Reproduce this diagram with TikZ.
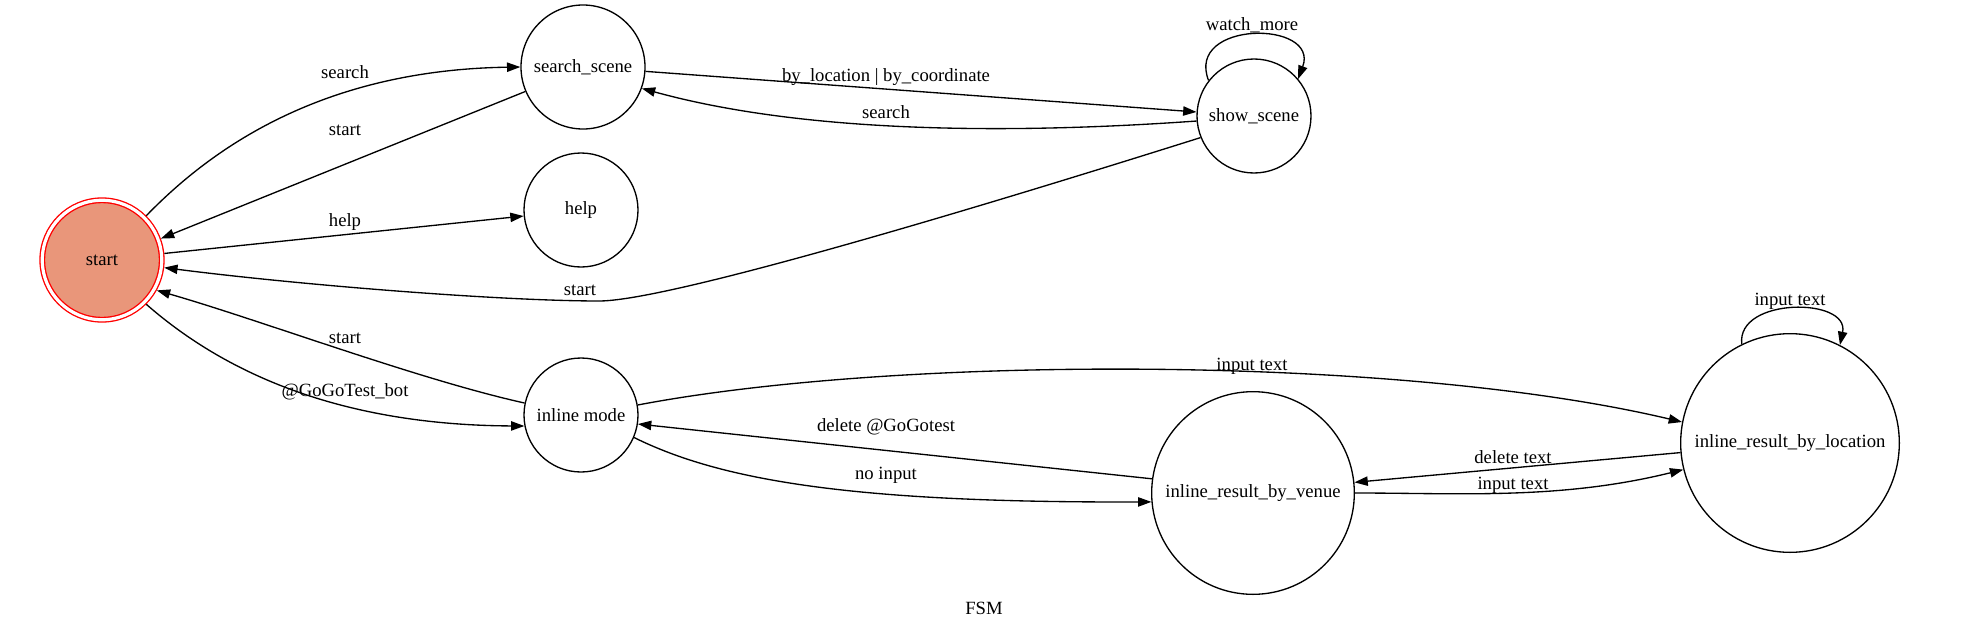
\documentclass[tikz,border=0pt]{standalone}
\usepackage{fontspec}
\setmainfont{Liberation Serif}
\usetikzlibrary{arrows.meta}
\definecolor{saumon}{RGB}{233,150,122}
\begin{document}
\begin{tikzpicture}[x=0.75pt,y=-0.75pt]
            \tikzstyle{etat}=[circle,draw,line width=1pt,inner sep=0pt,font=\fontsize{14}{17}\selectfont]
            \tikzstyle{depart}=[etat,draw=red,double=white,double distance=2.4pt,fill=saumon,outer sep=2.2pt]
            \tikzstyle{fleche}=[-{Triangle[length=10pt,width=7pt]},line width=1pt]
            \tikzstyle{etiquette}=[font=\fontsize{14}{17}\selectfont,inner sep=0pt]
            \useasboundingbox (0,0) rectangle (1971,629);
            \node[depart,minimum size=89.6pt] (start) at (102,260) {start};
            \node[etat,minimum size=93pt] (search) at (583,67) {search\_scene};
            \node[etat,minimum size=85.5pt] (help) at (581,210) {help};
            \node[etat,minimum size=85.5pt] (show) at (1254,116) {show\_scene};
            \node[etat,minimum size=85.5pt] (inline) at (581,415) {inline mode};
            \node[etat,minimum size=152pt] (venue) at (1253,493) {inline\_result\_by\_venue};
            \node[etat,minimum size=164pt] (location) at (1790,443) {inline\_result\_by\_location};
            \draw[fleche] (start.45) .. controls (210,150) and (320,70) .. (search.180);
            \draw[fleche] (search.203) -- (start.20);
            \draw[fleche] (start.6) -- (help.186);
            \draw[fleche] (show.202) .. controls (1050,185) and (680,300) .. (600,301) .. controls (500,301) and (300,285) .. (start.-7);
            \draw[fleche] (search.-4) -- (show.176);
            \draw[fleche] (show.185) .. controls (1000,135) and (800,132) .. (search.-20);
            \draw[fleche] (show.142) .. controls (1185,20) and (1320,20) .. (show.40);
            \draw[fleche] (inline.168) .. controls (420,380) and (260,320) .. (start.-29);
            \draw[fleche] (start.-45) .. controls (210,360) and (320,425) .. (inline.191);
            \draw[fleche] (inline.10) .. controls (900,355) and (1400,355) .. (location.169);
            \draw[fleche] (venue.172) -- (inline.-9);
            \draw[fleche] (inline.-23) .. controls (720,480) and (850,503) .. (venue.185);
            \draw[fleche] (location.185) -- (venue.6);
            \draw[fleche] (venue.0) .. controls (1460,493) and (1560,500) .. (location.194);
            \draw[fleche] (location.116) .. controls (1736,297) and (1850,297) .. (location.63);
            \node[etiquette] (l1) at (345,72) {search};
            \node[etiquette] (l2) at (345,130) {start};
            \node[etiquette] (l3) at (345,222) {help};
            \node[etiquette] (l4) at (580,290) {start};
            \node[etiquette] (l5) at (886,77) {by\_location | by\_coordinate};
            \node[etiquette] (l6) at (886,112) {search};
            \node[etiquette] (l7) at (1252,25) {watch\_more};
            \node[etiquette] (l8) at (345,338) {start};
            \node[etiquette] (l9) at (345,392) {@GoGoTest\_bot};
            \node[etiquette] (l10) at (1252,366) {input text};
            \node[etiquette] (l11) at (886,427) {delete @GoGotest};
            \node[etiquette] (l12) at (886,475) {no input};
            \node[etiquette] (l13) at (1513,457) {delete text};
            \node[etiquette] (l14) at (1513,485) {input text};
            \node[etiquette] (l15) at (1790,301) {input text};
            \node[etiquette] (fsm) at (984,608) {FSM};
        \end{tikzpicture}
\end{document}
